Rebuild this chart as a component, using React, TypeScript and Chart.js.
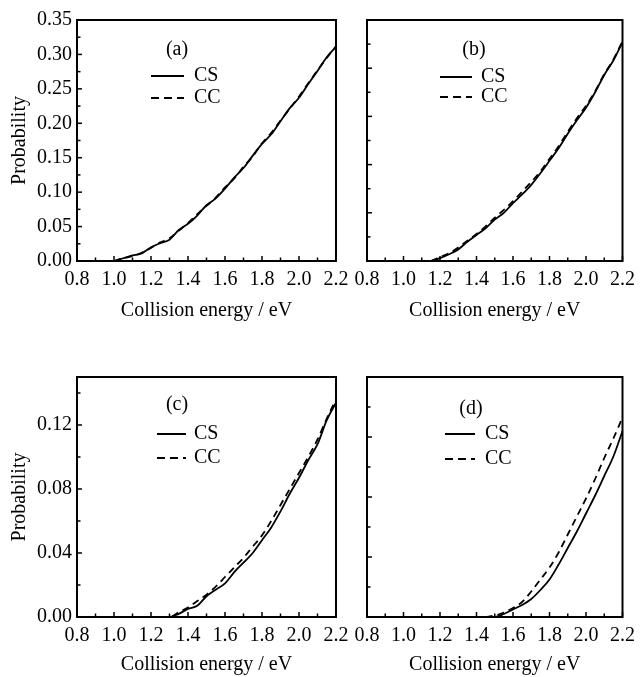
import React, { useEffect, useRef } from 'react';
import { Chart, registerables } from 'chart.js';

Chart.register(...registerables);

const FONT = '"Liberation Serif", "Times New Roman", serif';

// ---- data ----
const energy = [0.8, 0.85, 0.9, 0.95, 1.0, 1.05, 1.1, 1.15, 1.2, 1.25, 1.3, 1.35, 1.4, 1.45, 1.5, 1.55, 1.6, 1.65, 1.7, 1.75, 1.8, 1.85, 1.9, 1.95, 2.0, 2.05, 2.1, 2.15, 2.2];

const aCS = [null, null, null, null, 0, 0.004, 0.008, 0.011, 0.020, 0.026, 0.031, 0.045, 0.054, 0.066, 0.081, 0.091, 0.105, 0.121, 0.135, 0.153, 0.170, 0.184, 0.203, 0.222, 0.237, 0.257, 0.276, 0.296, 0.311];
const aCC = [null, null, null, null, 0, 0.004, 0.007, 0.012, 0.019, 0.027, 0.033, 0.044, 0.055, 0.068, 0.080, 0.092, 0.107, 0.120, 0.137, 0.152, 0.171, 0.186, 0.204, 0.221, 0.239, 0.258, 0.277, 0.295, 0.312];

const bCS = [null, null, null, null, null, null, null, 0, 0.003, 0.007, 0.012, 0.020, 0.027, 0.034, 0.043, 0.050, 0.060, 0.069, 0.079, 0.091, 0.104, 0.117, 0.132, 0.146, 0.159, 0.175, 0.193, 0.208, 0.227];
const bCC = [null, null, null, null, null, null, null, 0, 0.004, 0.008, 0.014, 0.021, 0.028, 0.036, 0.045, 0.053, 0.062, 0.072, 0.082, 0.093, 0.106, 0.119, 0.134, 0.148, 0.161, 0.176, 0.194, 0.209, 0.228];

const cCS = [null, null, null, null, null, null, null, null, null, 0, 0, 0.002, 0.005, 0.007, 0.013, 0.017, 0.021, 0.028, 0.034, 0.040, 0.048, 0.056, 0.066, 0.077, 0.087, 0.098, 0.108, 0.123, 0.134];
const cCC = [null, null, null, null, null, null, null, null, null, 0, 0, 0.003, 0.006, 0.010, 0.014, 0.019, 0.025, 0.031, 0.037, 0.044, 0.051, 0.060, 0.070, 0.080, 0.090, 0.100, 0.111, 0.124, 0.136];

const dCS = [null, null, null, null, null, null, null, null, null, null, null, null, null, 0, 0, 0.002, 0.005, 0.008, 0.012, 0.018, 0.025, 0.035, 0.046, 0.057, 0.069, 0.081, 0.094, 0.107, 0.124];
const dCC = [null, null, null, null, null, null, null, null, null, null, null, null, null, 0, 0.001, 0.003, 0.006, 0.010, 0.017, 0.025, 0.033, 0.043, 0.055, 0.067, 0.079, 0.092, 0.106, 0.119, 0.133];

const seriesNames = ['CS', 'CC'];
const panelLabels = ['(a)', '(b)', '(c)', '(d)'];
const xTitle = 'Collision energy / eV';
const yTitle = 'Probability';

const xMajorTicks = [0.8, 1.0, 1.2, 1.4, 1.6, 1.8, 2.0, 2.2];
const xMinorTicks = [0.9, 1.1, 1.3, 1.5, 1.7, 1.9, 2.1];
const aYTicks = [0, 0.05, 0.1, 0.15, 0.2, 0.25, 0.3, 0.35];
const aYMinor = [0.025, 0.075, 0.125, 0.175, 0.225, 0.275, 0.325];
const bYTicks = [0, 0.05, 0.1, 0.15, 0.2, 0.25];
const bYMinor = [0.025, 0.075, 0.125, 0.175, 0.225];
const cYTicks = [0, 0.04, 0.08, 0.12];
const cYMinor = [0.02, 0.06, 0.1, 0.14];
const dYTicks = [0, 0.04, 0.08, 0.12, 0.16];
const dYMinor = [0.02, 0.06, 0.1, 0.14];

// ---- layout (positions/styles) ----
const panels: any[] = [
  { key: 'a', label: panelLabels[0], cs: aCS, cc: aCC, yMax: 0.35, yTicks: aYTicks, yMinor: aYMinor, showY: true,
    left: 0, top: 0, width: 360, height: 323, padTop: 20, padRight: 24, yWidth: 77, xHeight: 62,
    leg: { lx: 100, ly: 30, x1: 74, x2: 107, tx: 117, y1: 56, y2: 78 } },
  { key: 'b', label: panelLabels[1], cs: bCS, cc: bCC, yMax: 0.25, yTicks: bYTicks, yMinor: bYMinor, showY: false,
    left: 340, top: 0, width: 302, height: 323, padTop: 20, padRight: 16, yWidth: 27, xHeight: 62,
    leg: { lx: 107, ly: 30, x1: 73, x2: 105, tx: 114, y1: 57, y2: 77 } },
  { key: 'c', label: panelLabels[2], cs: cCS, cc: cCC, yMax: 0.15, yTicks: cYTicks, yMinor: cYMinor, showY: true,
    left: 0, top: 340, width: 360, height: 337, padTop: 37, padRight: 24, yWidth: 77, xHeight: 60,
    leg: { lx: 100, ly: 28, x1: 80, x2: 109, tx: 117, y1: 57, y2: 81 } },
  { key: 'd', label: panelLabels[3], cs: dCS, cc: dCC, yMax: 0.16, yTicks: dYTicks, yMinor: dYMinor, showY: false,
    left: 340, top: 340, width: 302, height: 337, padTop: 37, padRight: 16, yWidth: 27, xHeight: 60,
    leg: { lx: 104, ly: 32, x1: 78, x2: 108, tx: 118, y1: 57, y2: 82 } },
];

function makeDecor(p: any) {
  return {
    id: 'decor_' + p.key,
    afterDatasetsDraw(chart: any) {
      const { ctx, chartArea } = chart;
      const { left, top, right, bottom } = chartArea;
      const xs = chart.scales.x;
      const ys = chart.scales.y;
      const line = (x1: number, y1: number, x2: number, y2: number) => {
        ctx.beginPath();
        ctx.moveTo(x1, y1);
        ctx.lineTo(x2, y2);
        ctx.stroke();
      };
      ctx.save();
      ctx.strokeStyle = '#000';
      ctx.fillStyle = '#000';
      ctx.setLineDash([]);
      ctx.lineWidth = 1.5;
      xMajorTicks.forEach((v) => { const px = xs.getPixelForValue(v); line(px, bottom, px, bottom - 5); });
      xMinorTicks.forEach((v) => { const px = xs.getPixelForValue(v); line(px, bottom, px, bottom - 3.5); });
      p.yTicks.forEach((v: number) => { const py = ys.getPixelForValue(v); line(left, py, left + 5, py); });
      p.yMinor.forEach((v: number) => { const py = ys.getPixelForValue(v); line(left, py, left + 3.5, py); });
      ctx.lineWidth = 2;
      ctx.strokeRect(left, top, right - left, bottom - top);

      const L = p.leg;
      ctx.font = '20px ' + FONT;
      ctx.textBaseline = 'middle';
      ctx.textAlign = 'center';
      ctx.fillText(p.label, left + L.lx, top + L.ly);
      ctx.textAlign = 'left';
      ctx.lineWidth = 2;
      ctx.setLineDash([]);
      line(left + L.x1, top + L.y1, left + L.x2, top + L.y1);
      ctx.fillText(seriesNames[0], left + L.tx, top + L.y1);
      ctx.setLineDash([8, 5]);
      line(left + L.x1, top + L.y2, left + L.x2, top + L.y2);
      ctx.setLineDash([]);
      ctx.fillText(seriesNames[1], left + L.tx, top + L.y2);
      ctx.restore();
    },
  };
}

function Panel({ p }: { p: any }) {
  const ref = useRef<HTMLCanvasElement>(null);
  useEffect(() => {
    const canvas = ref.current;
    if (!canvas) return;
    const toPts = (arr: (number | null)[]) => energy.map((e, i) => ({ x: e, y: arr[i] }));
    const font = { family: FONT, size: 20 };
    const chart = new Chart(canvas, {
      type: 'line',
      data: {
        datasets: [
          { label: seriesNames[1], data: toPts(p.cc), borderColor: '#000', borderWidth: 1.8, borderDash: [7, 5], pointRadius: 0, fill: false, cubicInterpolationMode: 'monotone' },
          { label: seriesNames[0], data: toPts(p.cs), borderColor: '#000', borderWidth: 1.8, pointRadius: 0, fill: false, cubicInterpolationMode: 'monotone' },
        ],
      } as any,
      options: {
        responsive: false,
        animation: false,
        devicePixelRatio: 1,
        layout: { padding: { left: 0, top: p.padTop, right: p.padRight, bottom: 0 } },
        plugins: { legend: { display: false }, tooltip: { enabled: false }, title: { display: false } },
        events: [],
        scales: {
          x: {
            type: 'linear',
            min: 0.8,
            max: 2.2,
            afterBuildTicks: (scale: any) => { scale.ticks = xMajorTicks.map((v) => ({ value: v })); },
            afterFit: (scale: any) => { scale.height = p.xHeight; },
            grid: { display: false, drawTicks: false },
            border: { display: false },
            ticks: { color: '#000', font, padding: 7, autoSkip: false, maxRotation: 0, minRotation: 0, callback: (v: any) => Number(v).toFixed(1) },
            title: { display: true, text: xTitle, color: '#000', font, padding: { top: 0, bottom: 0 } },
          },
          y: {
            type: 'linear',
            min: 0,
            max: p.yMax,
            afterBuildTicks: (scale: any) => { scale.ticks = p.yTicks.map((v: number) => ({ value: v })); },
            afterFit: (scale: any) => { scale.width = p.yWidth; },
            grid: { display: false, drawTicks: false },
            border: { display: false },
            ticks: { display: p.showY, color: '#000', font, padding: 5, autoSkip: false, callback: (v: any) => Number(v).toFixed(2) },
            title: { display: p.showY, text: yTitle, color: '#000', font, padding: { top: 8, bottom: 0 } },
          },
        },
      } as any,
      plugins: [makeDecor(p)],
    });
    return () => chart.destroy();
  }, [p]);
  return (
    <canvas
      ref={ref}
      width={p.width}
      height={p.height}
      style={{ position: 'absolute', left: p.left, top: p.top, width: p.width, height: p.height, display: 'block' }}
    />
  );
}

export default function App() {
  return (
    <div style={{ position: 'absolute', left: 0, top: 0, width: 642, height: 677, background: '#fff' }}>
      {panels.map((p) => (
        <Panel key={p.key} p={p} />
      ))}
    </div>
  );
}
